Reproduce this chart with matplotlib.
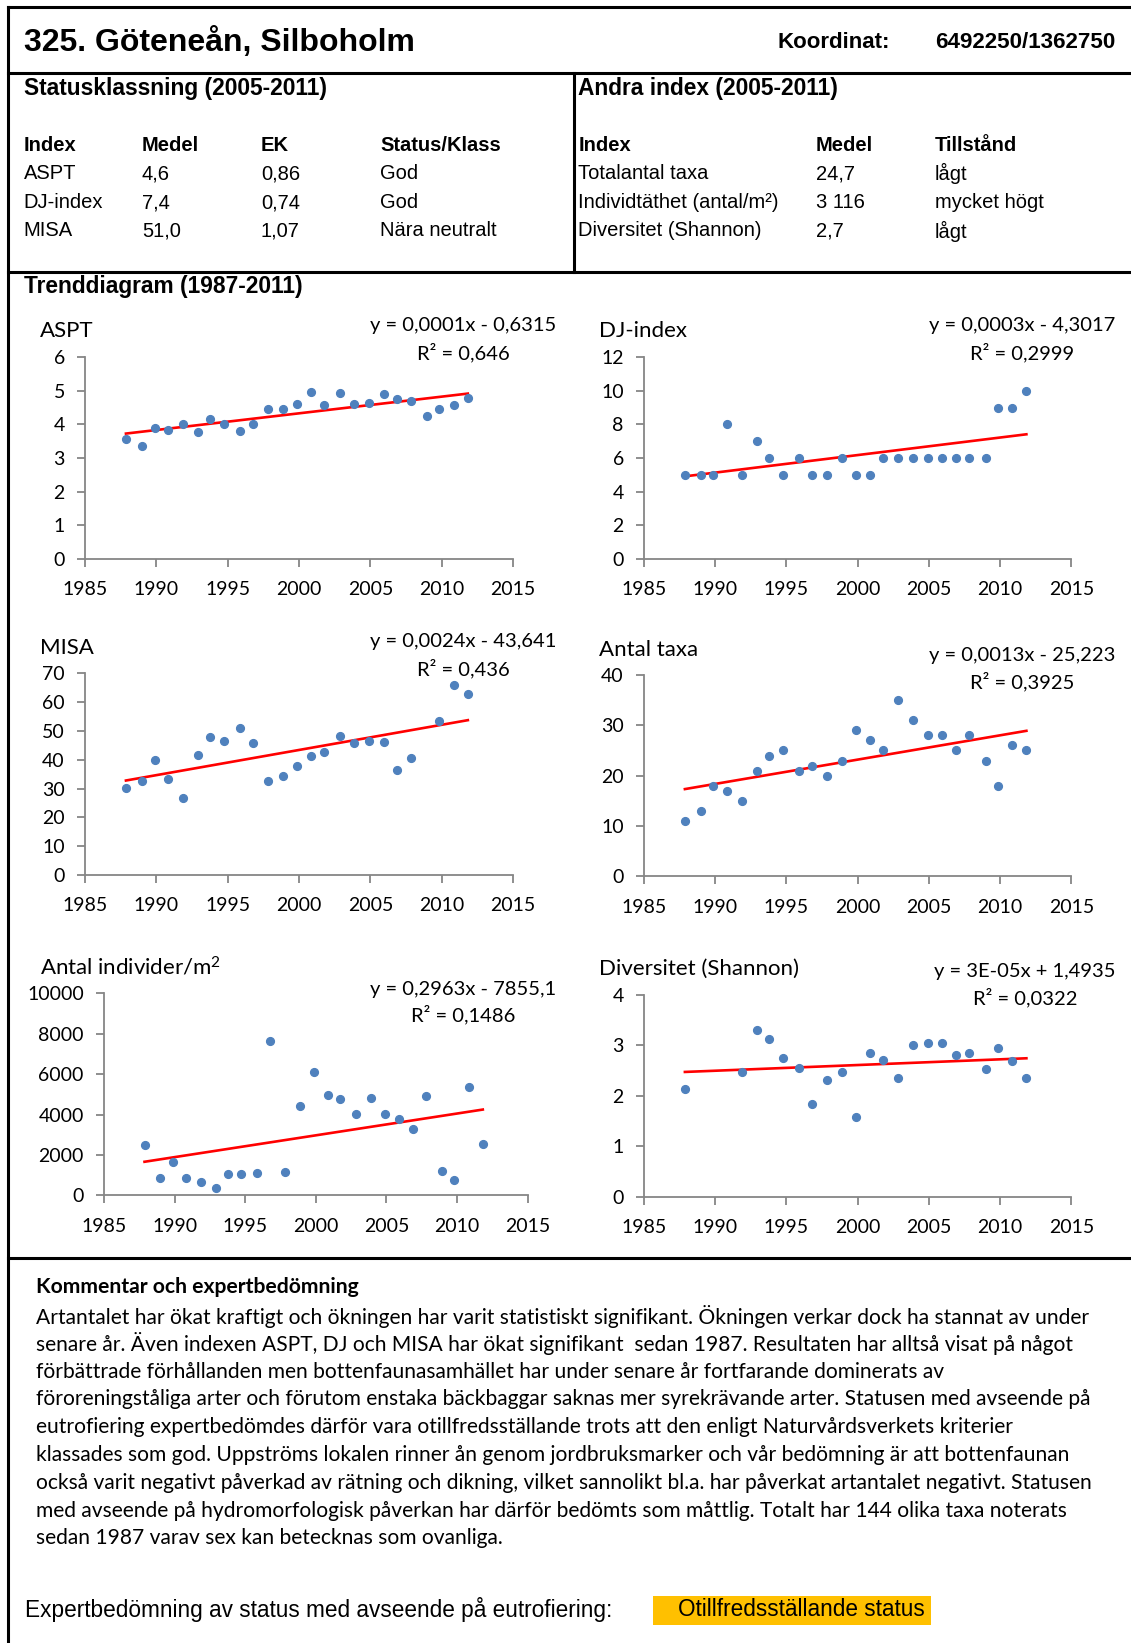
import numpy as np
import matplotlib
matplotlib.use('Agg')
import matplotlib.pyplot as plt
from matplotlib.patches import Rectangle

plt.rcParams['font.family'] = ['Lato', 'DejaVu Sans']
plt.rcParams['mathtext.fontset'] = 'custom'
plt.rcParams['mathtext.rm'] = 'Lato'
plt.rcParams['mathtext.it'] = 'Lato:italic'

# ---- data ----
years = list(range(1987, 2012))
# sampling date as fraction of the year (autumn sampling)
sample_frac = [0.87, 0.99, 0.875, 0.84, 0.85, 0.94, 0.76, 0.74, 0.845, 0.755, 0.85, 0.89, 0.875,
               0.84, 0.75, 0.855, 0.885, 0.905, 0.93, 0.865, 0.82, 0.965, 0.81, 0.855, 0.835]
nan = np.nan
aspt = [3.56, 3.37, 3.88, 3.82, 4.01, 3.77, 4.17, 4.00, 3.79, 4.00, 4.47, 4.47, 4.60,
        4.96, 4.58, 4.93, 4.61, 4.63, 4.92, 4.77, 4.69, 4.26, 4.47, 4.57, 4.79]
dj = [5, 5, 5, 8, 5, 7, 6, 5, 6, 5, 5, 6, 5, 5, 6, 6, 6, 6, 6, 6, 6, 6, 9, 9, 10]
misa = [30.3, 32.5, 39.9, 33.2, 26.6, 41.8, 47.9, 46.6, 50.9, 45.7, 32.5, 34.3, 37.8,
        41.2, 42.7, 48.1, 45.9, 46.5, 46.3, 36.6, 40.7, nan, 53.6, 66.1, 62.7]
taxa = [11, 13, 18, 17, 15, 21, 24, 25, 21, 22, 20, 23, 29, 27, 25, 35, 31, 28, 28, 25,
        28, 23, 18, 26, 25]
individer = [2490, 875, 1670, 840, 680, 360, 1070, 1070, 1100, 7620, 1140, 4440, 6100,
             4950, 4770, 4010, 4820, 4010, 3760, 3280, 4930, 1200, 760, 5350, 2520]
shannon = [2.13, nan, nan, nan, 2.47, 3.31, 3.12, 2.76, 2.55, 1.84, 2.31, 2.48, 1.59,
           2.84, 2.72, 2.36, 3.00, 3.05, 3.05, 2.81, 2.84, 2.53, 2.94, 2.70, 2.35]

chart_titles = ['ASPT', 'DJ-index', 'MISA', 'Antal taxa', 'Antal individer/m$^2$', 'Diversitet (Shannon)']
chart_series = [aspt, dj, misa, taxa, individer, shannon]
chart_ymax = [6, 12, 70, 40, 10000, 4]
chart_ystep = [1, 2, 10, 10, 2000, 1]
chart_eq = ['y = 0,0001x - 0,6315', 'y = 0,0003x - 4,3017', 'y = 0,0024x - 43,641',
            'y = 0,0013x - 25,223', 'y = 0,2963x - 7855,1', 'y = 3E-05x + 1,4935']
chart_r2 = ['R² = 0,646', 'R² = 0,2999', 'R² = 0,436', 'R² = 0,3925', 'R² = 0,1486', 'R² = 0,0322']

title_text = '325. Göteneån, Silboholm'
coord_label = 'Koordinat:'
coord_value = '6492250/1362750'
status_head = ['Index', 'Medel', 'EK', 'Status/Klass']
status_rows = [['ASPT', '4,6', '0,86', 'God'],
               ['DJ-index', '7,4', '0,74', 'God'],
               ['MISA', '51,0', '1,07', 'Nära neutralt']]
other_head = ['Index', 'Medel', 'Tillstånd']
other_rows = [['Totalantal taxa', '24,7', 'lågt'],
              ['Individtäthet (antal/m²)', '3 116', 'mycket högt'],
              ['Diversitet (Shannon)', '2,7', 'lågt']]
comment_head = 'Kommentar och expertbedömning'
comment_lines = [
    'Artantalet har ökat kraftigt och ökningen har varit statistiskt signifikant. Ökningen verkar dock ha stannat av under',
    'senare år. Även indexen ASPT, DJ och MISA har ökat signifikant  sedan 1987. Resultaten har alltså visat på något',
    'förbättrade förhållanden men bottenfaunasamhället har under senare år fortfarande dominerats av',
    'föroreningståliga arter och förutom enstaka bäckbaggar saknas mer syrekrävande arter. Statusen med avseende på',
    'eutrofiering expertbedömdes därför vara otillfredsställande trots att den enligt Naturvårdsverkets kriterier',
    'klassades som god. Uppströms lokalen rinner ån genom jordbruksmarker och vår bedömning är att bottenfaunan',
    'också varit negativt påverkad av rätning och dikning, vilket sannolikt bl.a. har påverkat artantalet negativt. Statusen',
    'med avseende på hydromorfologisk påverkan har därför bedömts som måttlig. Totalt har 144 olika taxa noterats',
    'sedan 1987 varav sex kan betecknas som ovanliga.',
]
expert_label = 'Expertbedömning av status med avseende på eutrofiering:'
expert_value = 'Otillfredsställande status'

# ---- page layout (pixels) ----
W, H = 1131, 1643
fig = plt.figure(figsize=(W / 100, H / 100), dpi=100)
bg = fig.add_axes([0, 0, 1, 1])
bg.set_xlim(0, W)
bg.set_ylim(H, 0)
bg.axis('off')

arial = 'Liberation Sans'
lw = 2.2
bg.plot([8, W], [7, 7], color='black', lw=lw)
bg.plot([8, 8], [7, H], color='black', lw=lw)
bg.plot([8, W], [72.5, 72.5], color='black', lw=lw)
bg.plot([8, W], [272, 272], color='black', lw=lw)
bg.plot([574, 574], [72.5, 272], color='black', lw=lw)
bg.plot([8, W], [1258, 1258], color='black', lw=lw)

bg.text(23.5, 42, title_text, family=arial, weight='bold', fontsize=23, va='center')
bg.text(777.5, 42, coord_label, family=arial, weight='bold', fontsize=16, va='center')
bg.text(935.5, 42, coord_value, family=arial, weight='bold', fontsize=16.1, va='center')

bg.text(23.5, 88, 'Statusklassning (2005-2011)', family=arial, weight='bold', fontsize=16.4, va='center')
bg.text(578.5, 88, 'Andra index (2005-2011)', family=arial, weight='bold', fontsize=16.4, va='center')
bg.text(23.5, 287, 'Trenddiagram (1987-2011)', family=arial, weight='bold', fontsize=16.4, va='center')

row_y = [145.5, 173.5, 203, 231]
left_cols = [23.5, 142, 261, 380]
right_cols = [578.5, 816, 935]
for x, h in zip(left_cols, status_head):
    bg.text(x, row_y[0], h, family=arial, weight='bold', fontsize=14.5, va='center')
for r, row in enumerate(status_rows):
    for x, v in zip(left_cols, row):
        bg.text(x, row_y[r + 1], v, family=arial, fontsize=14.5, va='center')
for x, h in zip(right_cols, other_head):
    bg.text(x, row_y[0], h, family=arial, weight='bold', fontsize=14.5, va='center')
for r, row in enumerate(other_rows):
    for x, v in zip(right_cols, row):
        bg.text(x, row_y[r + 1], v, family=arial, fontsize=14.5, va='center')

# ---- trend charts ----
# (x0, x1, y_top, y_bottom, title_x, title_y, eq_x, eq_y, r2_y)
boxes = [
    (85, 513, 357.3, 558.7, 40, 331, 463, 325, 353),
    (644, 1071.5, 357.3, 558.7, 599, 331, 1022, 325, 353),
    (85, 513, 673.3, 875, 40, 648, 463, 642, 669),
    (644, 1071.5, 675, 876.3, 599, 650, 1022, 655, 682),
    (104, 527.5, 993.3, 1195.3, 40, 967, 463, 989, 1015),
    (644, 1071.5, 995, 1196.7, 599, 969, 1025, 971, 998),
]
xdates = np.array(years) + np.array(sample_frac)
grey = '#868686'
for i, (x0, x1, yt, yb, tx, ty, ex, ey, ry) in enumerate(boxes):
    ax = fig.add_axes([x0 / W, 1 - yb / H, (x1 - x0) / W, (yb - yt) / H])
    vals = np.array(chart_series[i], dtype=float)
    ok = ~np.isnan(vals)
    ax.plot(xdates[ok], vals[ok], 'o', color='#4F81BD', markersize=5.6, zorder=3)
    k, m = np.polyfit(xdates[ok], vals[ok], 1)
    xl = np.array([xdates[ok].min(), xdates[ok].max()])
    ax.plot(xl, k * xl + m, color='#FF0000', lw=1.9, zorder=2)
    ax.set_xlim(1985, 2015)
    ax.set_ylim(0, chart_ymax[i])
    ax.set_xticks(range(1985, 2016, 5))
    ax.set_yticks(np.arange(0, chart_ymax[i] + 1, chart_ystep[i]))
    ax.set_yticklabels([str(int(v)) for v in np.arange(0, chart_ymax[i] + 1, chart_ystep[i])])
    ax.patch.set_alpha(0)
    for s in ['top', 'right']:
        ax.spines[s].set_visible(False)
    for s in ['left', 'bottom']:
        ax.spines[s].set_color(grey)
        ax.spines[s].set_linewidth(1.3)
    ax.tick_params(axis='both', direction='out', length=5.5, width=1.3, color=grey,
                   labelsize=14, labelcolor='black')
    ax.tick_params(axis='y', pad=9)
    ax.tick_params(axis='x', pad=10.5)
    bg.text(tx, ty, chart_titles[i], fontsize=16, va='center', ha='left')
    bg.text(ex, ey, chart_eq[i], fontsize=14.5, va='center', ha='center')
    bg.text(ex, ry, chart_r2[i], fontsize=14.5, va='center', ha='center')

# ---- comment ----
bg.text(36.5, 1287, comment_head, weight='bold', fontsize=15.2, va='center')
for j, line in enumerate(comment_lines):
    bg.text(36.5, 1316 + j * 27.8, line, fontsize=15.1, va='center')

bg.add_patch(Rectangle((653, 1596), 277.5, 28.5, color='#FFC000', lw=0))
bg.text(25, 1610, expert_label, family=arial, fontsize=16.3, va='center')
bg.text(678, 1610, expert_value, family=arial, fontsize=16.3, va='center')

fig.savefig('out.png', dpi=100)
